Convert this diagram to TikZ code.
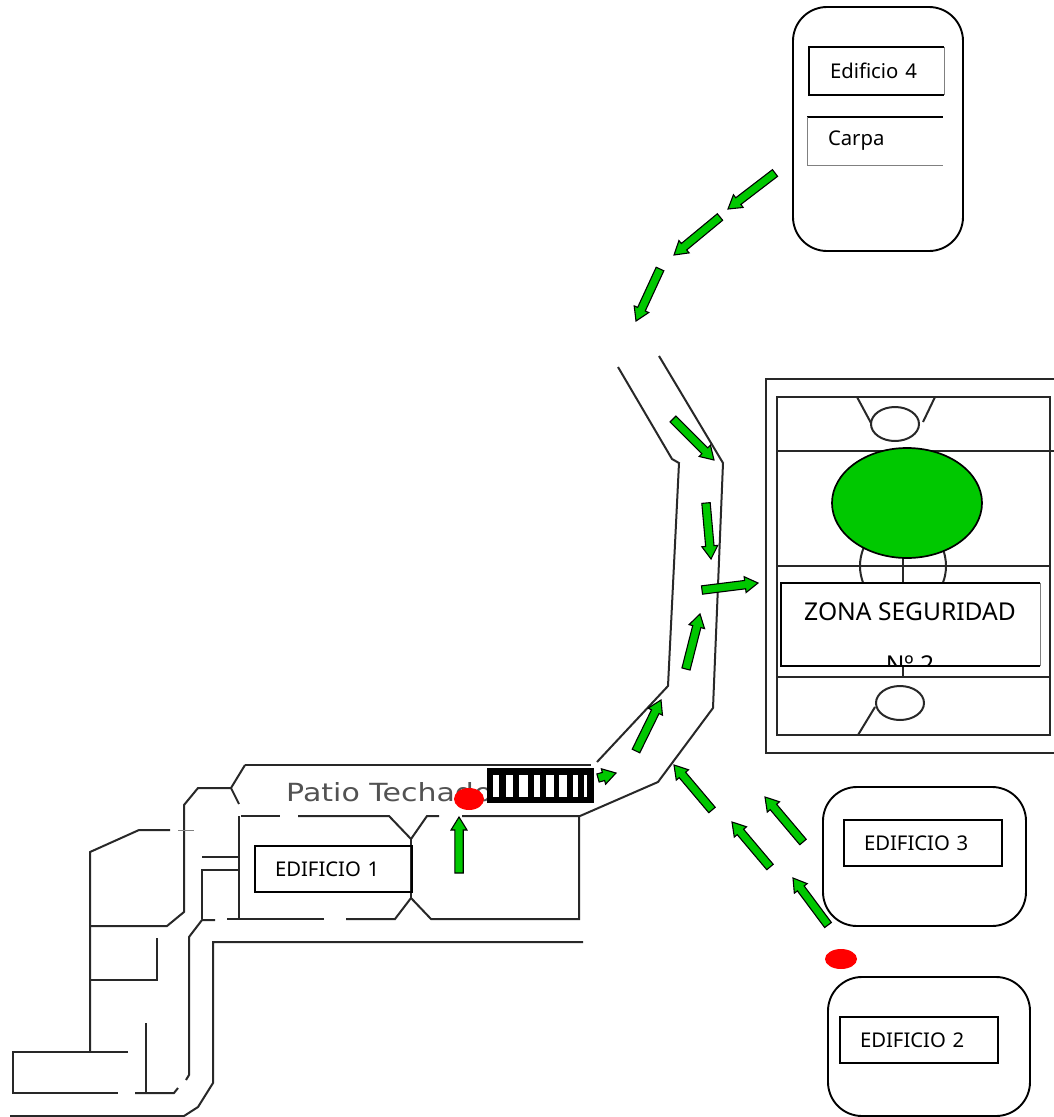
\documentclass[tikz,border=0pt]{standalone}
\usepackage{fontspec}
\setmainfont{Noto Sans}
\newfontfamily\patiofont{DejaVu Sans}
\usetikzlibrary{calc}
\usetikzlibrary{shapes.geometric}
\definecolor{flowgreen}{RGB}{0,200,0}
\definecolor{wallgray}{RGB}{40,40,40}
\tikzset{
  wall/.style = {draw=wallgray, line width=2pt},
  fieldline/.style = {draw=wallgray, line width=2.4pt},
  flowshape/.style = {draw=black, fill=flowgreen, line width=1.1pt, line join=miter},
  building/.style = {draw, line width=1.9pt, rounded corners=34pt},
  labelbox/.style = {line width=1.6pt, align=left, inner xsep=20pt, inner ysep=0pt,
                     font=\fontsize{20.3}{22}\selectfont},
  redspot/.style = {ellipse, fill=red, inner sep=0pt},
}
\newcommand{\flowarrow}[2]{%
  \coordinate (fa) at (#1);
  \coordinate (fb) at (#2);
  \coordinate (fh) at ($(fb)!13pt!(fa)$);
  \path[flowshape] ($(fa)!4.2pt!90:(fb)$) -- ($(fh)!4.2pt!90:(fb)$) -- ($(fh)!8pt!90:(fb)$)
    -- (fb) -- ($(fh)!8pt!-90:(fb)$) -- ($(fh)!4.2pt!-90:(fb)$) -- ($(fa)!4.2pt!-90:(fb)$) -- cycle;
}
\begin{document}
\begin{tikzpicture}[x=1pt, y=-1pt]
\useasboundingbox (0,0) rectangle (1054,1117);

% road to the field
\draw[wall] (245,765) -- (591,765);
\draw[wall] (597,762) -- (668,686) -- (679,463) -- (672,459) -- (618,367);
\draw[wall] (580,816) -- (658,782) -- (713,708) -- (723,463) -- (659,356);

% patio and building 1
\draw[wall] (245,765) -- (231,788) -- (239,804);
\draw[wall] (231,788) -- (198,788) -- (184,805) -- (184,912) -- (167,926) -- (90,926);
\draw[wall] (241,816) -- (280,816);
\draw[wall] (298,816) -- (389,816) -- (411,839) -- (427,816) -- (439,816);
\draw[wall] (462,816) -- (579,816) -- (579,919) -- (431,919) -- (411,898) -- (395,919) -- (346,919);
\draw[wall] (324,919) -- (227,919);
\draw[wall] (239,816) -- (239,919);
\draw[wall] (202,857) -- (239,857);
\draw[wall] (239,870) -- (202,870) -- (202,919);
\draw[wall] (411,839) -- (411,898);

% left wing
\draw[wall] (170,830) -- (139,830) -- (90,852) -- (90,1052);
\draw[wall, line width=0.8pt, gray] (178,830) -- (194,830);
\draw[wall] (90,980) -- (157,980) -- (157,938);
\draw[wall] (128,1052) -- (13,1052) -- (13,1093) -- (118,1093);
\draw[wall] (135,1093) -- (174,1093) -- (178,1088);
\draw[wall] (146,1023) -- (146,1093);
\draw[wall] (215,920) -- (202,920) -- (189,937) -- (189,1075) -- (186,1080);
\draw[wall] (583,942) -- (213,942) -- (213,1083) -- (198,1107) -- (184,1116) -- (10,1116);

% crossing
\node[font=\patiofont\fontsize{25}{28}\selectfont, text=black!68, anchor=west, inner sep=0pt, xscale=1.2, transform shape] (patio) at (286,792) {Patio Techado};
\node[fill=black, minimum width=107pt, minimum height=35pt, inner sep=0pt] (crossing) at (540.5,785.5) {};
\foreach \bx/\bw in {493/6, 506/7, 519/9, 534/6, 546/8, 559/8, 573/5, 584/3}
  \fill[white] (\bx,775) rectangle ++(\bw,22);
\node[redspot, minimum width=30pt, minimum height=22pt] (spotpatio) at (469,799) {};

% field
\draw[fieldline] (1054,379) -- (766,379) -- (766,753) -- (1054,753);
\draw[fieldline] (1050,451) -- (1050,397) -- (777,397) -- (777,735) -- (1050,735) -- (1050,451);
\draw[fieldline] (777,451) -- (1054,451);
\draw[fieldline] (777,566) -- (1050,566);
\draw[fieldline] (777,677) -- (1050,677);
\draw[fieldline] (903,558) -- (903,677);
\draw[wall] (903,566) ellipse (43pt and 45pt);
\draw[wall] (895,424) ellipse (24pt and 17pt);
\draw[wall] (857,397) -- (871,423);
\draw[wall] (935,397) -- (923,422);
\draw[wall] (900,703) ellipse (24pt and 17pt);
\draw[wall] (875,707) -- (858,735);
\node[ellipse, draw=black, fill=flowgreen, line width=1.7pt, minimum width=150pt, minimum height=110pt, inner sep=0pt] (zonecircle) at (907,503) {};
\node[fill=white, minimum width=259pt, minimum height=83pt, inner sep=0pt] (zone) at (910.5,624.5) {};
\draw[line width=1.8pt] (zone.north east) -- (zone.north west) -- (zone.south west) -- (zone.south east);
\draw[gray, line width=1pt] (zone.north east) -- (zone.south east);
\node[font=\fontsize{24.6}{28}\selectfont, inner sep=0pt] (zonetext) at (910,612) {ZONA SEGURIDAD};
\begin{scope}
\clip (zone.south west) rectangle (zone.north east);
\node[font=\fontsize{24.6}{28}\selectfont, inner sep=0pt] (zonenum) at (910,665) {Nº 2};
\end{scope}

% flow arrows
\flowarrow{775,173}{728,209}
\flowarrow{720,217}{674,255}
\flowarrow{660,269}{636,321}
\flowarrow{673,419}{714,460}
\flowarrow{706,503}{711,559}
\flowarrow{702,590}{758,583}
\flowarrow{686,669}{700,614}
\flowarrow{636,751}{661,700}
\flowarrow{598,778}{616,773}
\flowarrow{712,810}{674,765}
\flowarrow{803,842}{765,797}
\flowarrow{770,867}{732,822}
\flowarrow{828,925}{793,878}
\flowarrow{459,873}{459,817}

\node[redspot, minimum width=32pt, minimum height=20pt] (spotyard) at (841,959) {};

% buildings
\node[building, minimum width=170pt, minimum height=244pt] (edif4) at (878,129) {};
\node[building, minimum width=203pt, minimum height=139pt] (edif3) at (924.5,856.5) {};
\node[building, minimum width=202pt, minimum height=139pt] (edif2) at (929,1046.5) {};

\node[labelbox, draw, minimum width=157pt, minimum height=46pt, text width=117pt] (label1) at (333.5,869) {EDIFICIO 1};
\node[labelbox, draw, minimum width=158pt, minimum height=46pt, text width=118pt] (label2) at (919,1040) {EDIFICIO 2};
\node[labelbox, draw, minimum width=158pt, minimum height=46pt, text width=118pt] (label3) at (923,843) {EDIFICIO 3};
\node[labelbox, minimum width=133pt, minimum height=46pt, text width=93pt] (label4) at (876.5,71) {Edificio 4};
\node[labelbox, minimum width=134pt, minimum height=46pt, text width=94pt] (carpa) at (875,141) {Carpa};
\draw[line width=1.9pt] (label4.north east) -- (label4.north west) -- (label4.south west) -- (label4.south east);
\draw[gray] (label4.south east) -- (label4.north east);
\draw[line width=2pt] (carpa.north east) -- (carpa.north west);
\draw[line width=1.3pt, gray] (carpa.north west) -- (carpa.south west);
\draw[gray] (carpa.south west) -- (carpa.south east);
\end{tikzpicture}
\end{document}
